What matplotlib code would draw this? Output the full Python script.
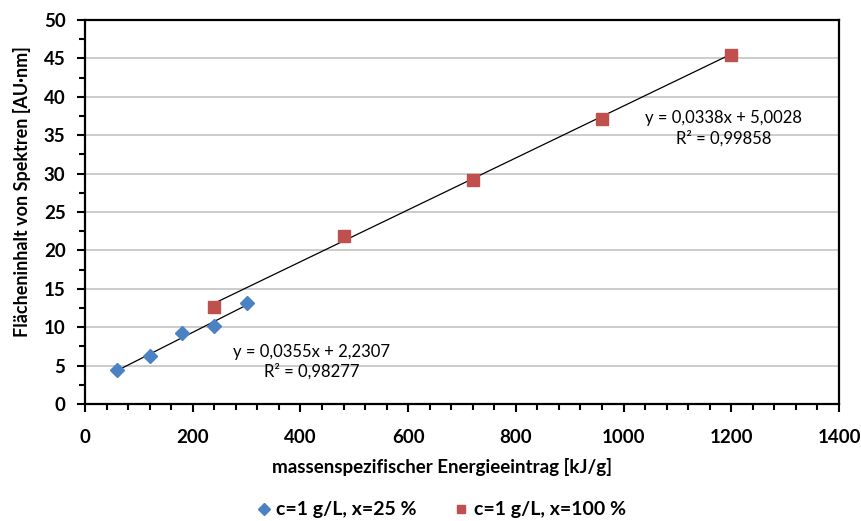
import matplotlib
matplotlib.use("Agg")
import matplotlib.pyplot as plt
from matplotlib.ticker import MultipleLocator
import numpy as np

plt.rcParams['font.family'] = ['Lato', 'DejaVu Sans']

# Series 1: c=1 g/L, x=25 %
x25 = [60, 120, 180, 240, 300]
y25 = [4.45, 6.2, 9.2, 10.1, 13.1]
# Series 2: c=1 g/L, x=100 %
x100 = [240, 480, 720, 960, 1200]
y100 = [12.6, 21.9, 29.2, 37.1, 45.4]

# Linear trend coefficients (slope, intercept, R²)
fit25 = (0.0355, 2.2307, 0.98277)
fit100 = (0.0338, 5.0028, 0.99858)

labels = ["c=1 g/L, x=25 %", "c=1 g/L, x=100 %"]
xlabel = "massenspezifischer Energieeintrag [kJ/g]"
ylabel = "Flächeninhalt von Spektren [AU·nm]"

blue = "#4A82C4"
red = "#C0504D"

fig = plt.figure(figsize=(8.62, 5.21), dpi=100)
ax = fig.add_axes([85 / 862, 1 - 404 / 521, (839 - 85) / 862, (404 - 20) / 521])

ax.set_xlim(0, 1400)
ax.set_ylim(0, 50)

ax.yaxis.set_major_locator(MultipleLocator(5))
ax.yaxis.set_minor_locator(MultipleLocator(2.5))
ax.xaxis.set_major_locator(MultipleLocator(200))
ax.xaxis.set_minor_locator(MultipleLocator(40))

ax.grid(axis='y', which='major', color='#C8C8C8', linewidth=1.3, zorder=0)
ax.set_axisbelow(True)

for s in ax.spines.values():
    s.set_linewidth(1.6)
    s.set_color('black')

ax.tick_params(axis='both', which='major', direction='out', length=6, width=1.5,
               labelsize=13.5)
ax.tick_params(axis='x', which='major', pad=12)
ax.tick_params(axis='y', which='major', pad=8)
ax.tick_params(axis='both', which='minor', direction='out', length=4, width=1.5)
for lab in ax.get_xticklabels() + ax.get_yticklabels():
    lab.set_fontweight('bold')

# trend lines drawn from the stated coefficients
for xs, (m, b, _) in ((x25, fit25), (x100, fit100)):
    xx = np.array([min(xs), max(xs)])
    ax.plot(xx, m * xx + b, color='black', linewidth=0.9, zorder=2)

h1, = ax.plot(x25, y25, linestyle='none', marker='D', markersize=7.5,
              color=blue, markeredgecolor=blue, zorder=3)
h2, = ax.plot(x100, y100, linestyle='none', marker='s', markersize=8.5,
              color=red, markeredgecolor=red, zorder=3)

def eq_text(m, b, r2):
    f = lambda v, n: f"{v:.{n}f}".replace('.', ',')
    return f"y = {f(m, 4)}x + {f(b, 4)}\nR² = {f(r2, 5)}"

ax.text(421, 5.5, eq_text(*fit25), ha='center', va='center',
        multialignment='center', fontsize=12, linespacing=1.3)
ax.text(1186, 35.9, eq_text(*fit100), ha='center', va='center',
        multialignment='center', fontsize=12, linespacing=1.3)

ax.set_xlabel(xlabel, fontsize=13.5, fontweight='bold')
ax.set_ylabel(ylabel, fontsize=13, fontweight='bold')
ax.xaxis.set_label_coords((442 - 85) / 754, -(467 - 404) / 384)
ax.yaxis.set_label_coords(-(85 - 22) / 754, (404 - 192) / 384)
ax.xaxis.label.set_va('center')
ax.yaxis.label.set_va('center')

fig.legend([h1, h2], labels, loc='center', bbox_to_anchor=(440 / 862, 1 - 510 / 521),
           ncol=2, frameon=False, prop={'weight': 'bold', 'size': 14},
           handletextpad=0.15, columnspacing=1.8, handlelength=1.0,
           markerscale=0.75)

fig.savefig("out.png", dpi=100)
